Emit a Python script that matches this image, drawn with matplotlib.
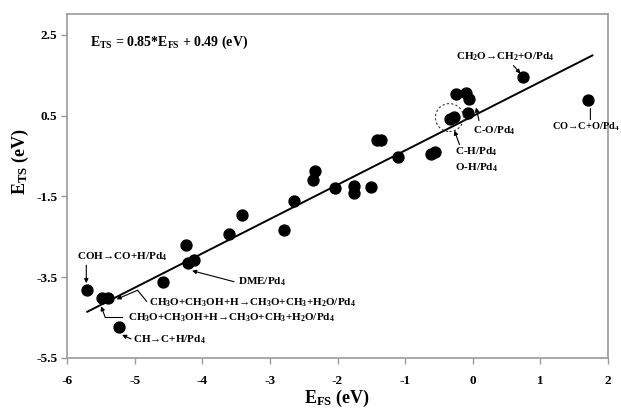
import matplotlib
matplotlib.use("Agg")
import matplotlib.pyplot as plt
from matplotlib.patches import Ellipse
import numpy as np

# ---- data ----
x_fs = [-5.70, -5.48, -5.40, -5.23, -4.58, -4.24, -4.21, -4.12, -3.60, -3.41,
        -2.79, -2.64, -2.36, -2.34, -2.03, -1.75, -1.75, -1.51, -1.41, -1.35,
        -1.11, -0.61, -0.56, -0.33, -0.28, -0.25, -0.10, -0.07, -0.05, 0.75, 1.71]
y_ts = [-3.82, -4.02, -4.02, -4.73, -3.63, -2.69, -3.14, -3.07, -2.44, -1.97,
        -2.33, -1.62, -1.10, -0.86, -1.29, -1.23, -1.41, -1.26, -0.09, -0.09,
        -0.52, -0.45, -0.39, 0.43, 0.48, 1.04, 1.06, 0.58, 0.91, 1.47, 0.90]
slope, intercept = 0.85, 0.49
fit_range = [-5.70, 1.77]
x_ticks = [-6, -5, -4, -3, -2, -1, 0, 1, 2]
y_ticks = [-5.5, -3.5, -1.5, 0.5, 2.5]

plt.rcParams['font.family'] = ['Liberation Serif', 'DejaVu Serif', 'DejaVu Sans']
plt.rcParams['font.weight'] = 'bold'
plt.rcParams['mathtext.fontset'] = 'custom'
plt.rcParams['mathtext.rm'] = 'Liberation Serif:bold'
plt.rcParams['mathtext.it'] = 'Liberation Serif:bold'
plt.rcParams['mathtext.bf'] = 'Liberation Serif:bold'

ARROW = '\u2192'

fig = plt.figure(figsize=(6.21, 4.18), dpi=100)
ax = fig.add_axes([67/621, 1-358/418, (608-67)/621, (358-14)/418])
ax.set_xlim(-6, 2)
ax.set_ylim(-5.5, 3.02)

for s in ax.spines.values():
    s.set_color('#9a9a9a')
    s.set_linewidth(1.2)
ax.set_xticks(x_ticks)
ax.set_yticks(y_ticks)
ax.set_xticklabels([str(t) for t in x_ticks])
ax.set_yticklabels([str(t) for t in y_ticks])
ax.tick_params(axis='both', direction='out', length=4, width=1, color='#9a9a9a',
               labelsize=9.5)
ax.tick_params(axis='y', pad=3)
ax.tick_params(axis='x', pad=8)
for lab in ax.get_xticklabels() + ax.get_yticklabels():
    lab.set_fontweight('bold')

ax.set_xlabel('E$_{FS}$ (eV)', fontsize=13, fontweight='bold')
ax.set_ylabel('E$_{TS}$ (eV)', fontsize=13, fontweight='bold')
ax.xaxis.set_label_coords((337-67)/541, (358-388)/344)
ax.yaxis.set_label_coords((31-67)/541, (358-162)/344)

# fit line
xf = np.array(fit_range)
ax.plot(xf, slope*xf + intercept, color='black', lw=1.4, zorder=2)
ax.scatter(x_fs, y_ts, s=62, color='black', zorder=3)

ax.text((90-67)/541, (358-42)/344, 'E$_{TS}$ = 0.85*E$_{FS}$ + 0.49 (eV)',
        transform=ax.transAxes, fontsize=10, fontweight='bold', va='center', ha='left')

fig.canvas.draw()

def off(i, dx, dy):
    p = ax.transData.transform((x_fs[i], y_ts[i]))
    return ax.transData.inverted().transform((p[0]+dx, p[1]-dy))

fs_lab = 8

def label(i, text, dx, dy, ha='left', size=fs_lab):
    ax.text(*off(i, dx, dy), text.replace('->', ARROW), fontsize=size,
            fontweight='bold', ha=ha, va='center')

def path(i, pts, head=True):
    xy = [off(i, a, b) for a, b in pts]
    if len(xy) > 2:
        xs = [q[0] for q in xy[:-1]]
        ys = [q[1] for q in xy[:-1]]
        ax.plot(xs, ys, color='black', lw=0.8, zorder=4)
    ax.annotate('', xy=xy[-1], xytext=xy[-2],
                arrowprops=dict(arrowstyle='-|>' if head else '-', color='black', lw=0.8,
                                mutation_scale=6, shrinkA=0, shrinkB=0))

# COH -> CO+H
label(0, 'COH->CO+H/Pd$_4$', -10, -33)
path(0, [(-1, -25), (-1, -7)])
# CH3O ... (upper)
label(2, 'CH$_3$O+CH$_3$OH+H->CH$_3$O+CH$_3$+H$_2$O/Pd$_4$', 41, 5)
path(2, [(39, 3), (30, -8), (9, 1)])
# CH3O ... (lower)
label(1, 'CH$_3$O+CH$_3$OH+H->CH$_3$O+CH$_3$+H$_2$O/Pd$_4$', 26, 20)
path(1, [(20, 19), (3, 19), (-1, 8)])
# CH -> C+H
label(3, 'CH->C+H/Pd$_4$', 14, 13)
path(3, [(12, 12), (3, 8)])
# DME
label(6, 'DME/Pd$_4$', 50, 19)
path(6, [(46, 19), (4, 8)])
# CH2O -> CH2+O
label(29, 'CH$_2$O->CH$_2$+O/Pd$_4$', -18, -20, ha='center')
path(29, [(-10, -11), (-3, -3)])
# C-O
label(27, 'C-O/Pd$_4$', 5, 18)
path(27, [(11, 8), (8, -5)])
# C-H / O-H
label(23, 'C-H/Pd$_4$', 5, 33)
label(23, 'O-H/Pd$_4$', 5, 49)
path(23, [(9, 26), (4, 12)])
c = off(23, -1, -1)
ax.add_patch(Ellipse(c, 28/67.6, 28/40.4, fill=False, ls=(0, (2, 2)), lw=0.8,
                     edgecolor='#333333', zorder=4))
# CO -> C+O
label(30, 'CO->C+O/Pd$_4$', -36, 27, size=7.5)
path(30, [(2, 20), (2, 9)], head=False)

fig.savefig('out.png', dpi=100)
